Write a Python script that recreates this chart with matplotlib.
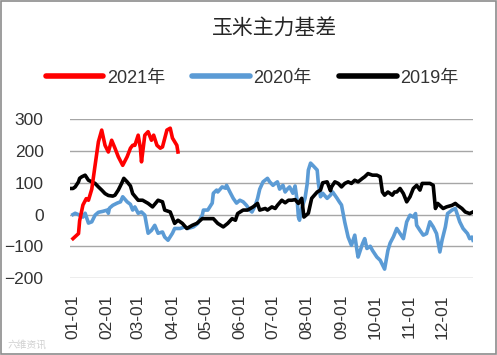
import matplotlib
matplotlib.use("Agg")
import matplotlib.pyplot as plt
from matplotlib.patches import Rectangle

plt.rcParams['font.family'] = ['Liberation Sans', 'Noto Sans CJK SC', 'DejaVu Sans']

# month labels and their day-of-year positions
month_labels = ['01-01', '02-01', '03-01', '04-01', '05-01', '06-01',
                '07-01', '08-01', '09-01', '10-01', '11-01', '12-01']
month_days = [0, 31, 59, 90, 120, 151, 181, 212, 243, 273, 304, 334]

# 2021 basis (day of year, value)
days_2021 = [0, 5, 6, 9, 12, 14, 17, 20, 23, 26, 29, 32, 35, 38, 41, 45, 49,
             52, 54, 56, 59, 61, 62, 65, 68, 71, 73, 76, 79, 81, 85, 88, 90,
             94, 95]
vals_2021 = [-76, -60, -20, 30, 50, 45, 80, 155, 229, 266, 218, 197, 234, 209,
             182, 155, 182, 209, 218, 218, 250, 209, 166, 250, 261, 234, 250,
             218, 209, 213, 266, 272, 241, 218, 197]

# 2020 basis
days_2020 = [0, 2, 6, 9, 11, 14, 17, 20, 23, 27, 31, 32, 33, 36, 40, 43, 45,
             49, 52, 54, 56, 59, 62, 65, 68, 71, 74, 77, 81, 83, 86, 90, 92,
             97, 101, 104, 109, 113, 117, 118, 122, 126, 127, 130, 131, 135,
             138, 139, 142, 145, 148, 151, 154, 157, 160, 162, 165, 167, 169,
             172, 176, 178, 181, 183, 185, 187, 190, 192, 194, 196, 199, 201,
             203, 204, 205, 207, 210, 212, 213, 215, 217, 221, 222, 224, 226,
             230, 233, 235, 239, 241, 243, 246, 249, 252, 255, 257, 258, 262,
             264, 266, 269, 271, 275, 278, 281, 282, 285, 287, 290, 293, 296,
             299, 302, 305, 308, 310, 311, 314, 317, 320, 323, 326, 329, 332,
             334, 337, 339, 343, 346, 348, 350, 353, 357, 359, 361, 362]
vals_2020 = [0, 4, -2, -8, 4, -27, -23, -2, 7, 10, 14, 4, 20, 29, 36, 40, 56,
             40, 32, 14, 24, 4, 8, -2, -59, -50, -34, -59, -55, -71, -81, -59,
             -44, -44, -39, -44, -39, -28, -2, 14, 14, 36, 67, 77, 71, 87, 83,
             92, 71, 51, 36, 45, 40, 29, 14, 8, 29, 50, 80, 103, 114, 103, 92,
             98, 103, 80, 92, 71, 80, 87, 67, 90, 40, -8, -18, 20, 51, 98, 140,
             162, 155, 140, 100, 56, 67, 51, 61, 71, 51, 40, 30, -25, -71, -97,
             -65, -113, -134, -92, -76, -107, -100, -113, -134, -144, -165,
             -172, -113, -90, -70, -44, -60, -76, -23, -2, -8, 3, -34, -50,
             -65, -60, -23, -39, -60, -118, -81, -39, 3, 14, 19, -2, -23, -44,
             -60, -76, -71, -81]

# 2019 basis
days_2019 = [-3, 0, 2, 5, 6, 8, 11, 14, 17, 20, 23, 26, 29, 32, 36, 38, 41,
             44, 46, 49, 52, 54, 59, 63, 68, 72, 77, 81, 83, 88, 92, 95, 99,
             103, 108, 112, 117, 121, 127, 131, 136, 140, 144, 147, 149, 154,
             158, 163, 167, 169, 174, 176, 180, 183, 185, 189, 192, 195, 198,
             201, 204, 207, 209, 213, 216, 221, 224, 226, 230, 233, 234, 237,
             240, 243, 246, 249, 252, 255, 258, 262, 264, 267, 271, 275, 278,
             280, 282, 285, 289, 291, 293, 296, 299, 302, 305, 308, 311, 314,
             316, 319, 323, 326, 328, 330, 335, 338, 343, 346, 348, 352, 355,
             359, 362]
vals_2019 = [82, 82, 87, 103, 114, 119, 124, 108, 103, 98, 87, 77, 66, 60, 58,
             61, 77, 98, 114, 103, 90, 66, 45, 45, 35, 24, 45, 40, 14, 8, -28,
             -18, -28, -44, -34, -28, -13, -13, -13, -28, -39, -28, -13, -18,
             3, 14, 14, 24, 35, 14, 19, 14, 24, 19, 29, 45, 37, 45, 45, 47, 35,
             51, -8, 4, 51, 71, 77, 100, 103, 75, 87, 103, 98, 87, 98, 103, 98,
             108, 103, 114, 119, 129, 124, 124, 119, 71, 61, 71, 61, 71, 71,
             82, 66, 40, 56, 82, 92, 77, 98, 98, 98, 92, 19, 35, 19, 24, 29,
             35, 29, 19, 8, 3, 8]

fig = plt.figure(figsize=(4.97, 3.55), dpi=100)
ax = fig.add_axes([70 / 497, 1 - 278 / 355, 403 / 497, (278 - 119.3) / 355])

ax.plot(days_2020, vals_2020, color='#5b9bd5', lw=2.6, label='2020年', zorder=3)
ax.plot(days_2019, vals_2019, color='#000000', lw=2.6, label='2019年', zorder=4)
ax.plot(days_2021, vals_2021, color='#ff0000', lw=2.6, label='2021年', zorder=5)

ax.set_xlim(-2.7, 362)
ax.set_ylim(-200, 300)
ax.set_yticks([-200, -100, 0, 100, 200, 300])
ax.set_xticks(month_days)
ax.set_xticklabels(month_labels, rotation=90)
ax.tick_params(axis='both', length=0, labelsize=12.5, colors='#333333')
ax.tick_params(axis='y', pad=19)
ax.tick_params(axis='x', pad=12)
ax.grid(axis='y', color='#a6a6a6', lw=1)
for s in ax.spines.values():
    s.set_visible(False)

fig.text(275 / 497, 1 - 29 / 355, '玉米主力基差', ha='center', va='center',
         fontsize=15, color='#262626', family=['Noto Sans CJK SC'])

handles, labels = ax.get_legend_handles_labels()
order = [2, 0, 1]
fig.legend([handles[i] for i in order], [labels[i] for i in order],
           loc='center', bbox_to_anchor=(252 / 497, 1 - 78 / 355), ncol=3,
           frameon=False, fontsize=13, handlelength=3.2, handletextpad=0.2,
           columnspacing=1.5, labelcolor='#333333')
for line in fig.legends[0].get_lines():
    line.set_linewidth(4)
    line.set_solid_capstyle('round')

fig.text(8 / 497, 1 - 345 / 355, '六维资讯', fontsize=7, color='#d0d0d0',
         va='center', family=['Noto Sans CJK SC'])

fig.patches.append(Rectangle((0.002, 0.003), 0.995, 0.994, transform=fig.transFigure,
                             fill=False, ec='#8c8c8c', lw=1.2))

fig.savefig('out.png', dpi=100)
